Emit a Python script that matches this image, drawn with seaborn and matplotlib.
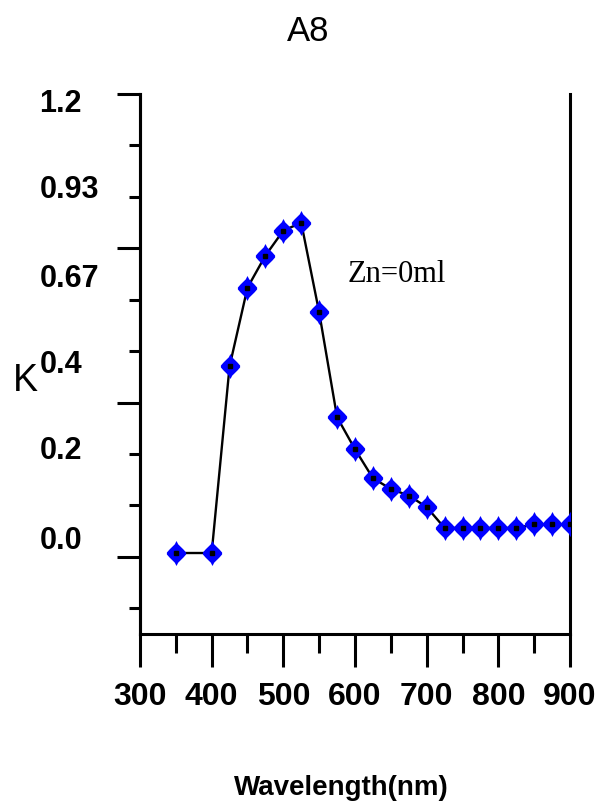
import matplotlib
matplotlib.use("Agg")
import matplotlib.pyplot as plt
import pandas as pd
import seaborn as sns

# Extinction coefficient spectrum, sample A8
wavelength = [350, 400, 425, 450, 475, 500, 525, 550, 575, 600, 625, 650,
              675, 700, 725, 750, 775, 800, 825, 850, 875, 900]
k_values = [0.010, 0.010, 0.494, 0.698, 0.781, 0.846, 0.866, 0.634, 0.362,
            0.279, 0.204, 0.176, 0.159, 0.129, 0.075, 0.075, 0.075, 0.075,
            0.075, 0.084, 0.084, 0.084]

x_ticks = [300, 400, 500, 600, 700, 800, 900]
y_tick_labels = ["1.2", "0.93", "0.67", "0.4", "0.2", "0.0"]
y_tick_label_pos = [1.187, 0.962, 0.732, 0.509, 0.285, 0.052]
y_major = [0.0, 0.4, 0.8, 1.2]

sns.set_style("ticks")
plt.rcParams["font.family"] = ["Liberation Sans", "DejaVu Sans"]
plt.rcParams["text.color"] = "black"
plt.rcParams["axes.edgecolor"] = "black"
plt.rcParams["xtick.color"] = "black"
plt.rcParams["ytick.color"] = "black"
plt.rcParams["axes.labelcolor"] = "black"

df = pd.DataFrame({"Wavelength": wavelength, "K": k_values})

fig = plt.figure(figsize=(5.98, 8.03), dpi=100)
ax = fig.add_axes([0.2341, 0.2092, 0.7191, 0.6725])

# four-pointed star marker with a full diamond body, a little taller than wide
star = [(0, 1.3), (0.18, 0.95), (0.72, 0.42), (1.0, 0.1), (1.0, -0.1),
        (0.72, -0.42), (0.18, -0.95), (0, -1.3), (-0.18, -0.95), (-0.72, -0.42),
        (-1.0, -0.1), (-1.0, 0.1), (-0.72, 0.42), (-0.18, 0.95), (0, 1.3)]

blue = "#0000ff"
sns.lineplot(data=df, x="Wavelength", y="K", ax=ax, color="black", lw=1.7,
             marker=star, markersize=18, markerfacecolor=blue,
             markeredgecolor=blue, markeredgewidth=0, zorder=3)
ax.plot(df["Wavelength"], df["K"], linestyle="none", marker="s",
        markersize=2.5, color="black", zorder=4)

ax.set_xlim(300, 900)
ax.set_ylim(-0.2, 1.2)

for side in ["left", "bottom", "right"]:
    ax.spines[side].set_linewidth(2.2)
    ax.spines[side].set_color("black")
ax.spines["top"].set_visible(False)

# x axis: long labelled ticks every 100 nm, short ones between
ax.set_xticks(x_ticks)
ax.set_xticklabels([str(v) for v in x_ticks], fontsize=23, fontweight="bold")
ax.set_xticks([350, 450, 550, 650, 750, 850], minor=True)
ax.tick_params(axis="x", which="major", direction="out", length=24, width=2.2, pad=10)
ax.tick_params(axis="x", which="minor", direction="out", length=13.5, width=2.2)

# y axis: labels placed independently from the tick marks
ax.set_yticks(y_tick_label_pos)
ax.set_yticklabels(y_tick_labels, fontsize=22, fontweight="bold")
for lbl in ax.get_yticklabels():
    lbl.set_horizontalalignment("left")
ax.tick_params(axis="y", which="major", length=0, pad=72.5)
ax.set_yticks([-0.1333, 0.1333, 0.2667, 0.5333, 0.6667, 0.9333, 1.0667], minor=True)
ax.tick_params(axis="y", which="minor", direction="out", length=8, width=2.2)

sec = ax.secondary_yaxis("left")
sec.set_yticks(y_major)
sec.set_yticklabels([""] * len(y_major))
sec.tick_params(axis="y", direction="out", length=16.5, width=2.2, color="black")
sec.spines["left"].set_linewidth(2.2)
sec.spines["left"].set_color("black")

ax.set_xlabel("")
ax.set_ylabel("")
fig.text(25 / 598, 1 - 381 / 803, "K", fontsize=27, ha="center", va="center")
fig.text(341 / 598, 1 - 788 / 803, "Wavelength(nm)", fontsize=20, fontweight="bold",
         ha="center", va="center")
fig.text(308 / 598, 1 - 31.5 / 803, "A8", fontsize=25, ha="center", va="center")

ax.text(590, 0.734, "Zn=0ml", fontsize=22, family=["Liberation Serif", "DejaVu Serif"],
        ha="left", va="center")

fig.savefig("out.png", dpi=100)
